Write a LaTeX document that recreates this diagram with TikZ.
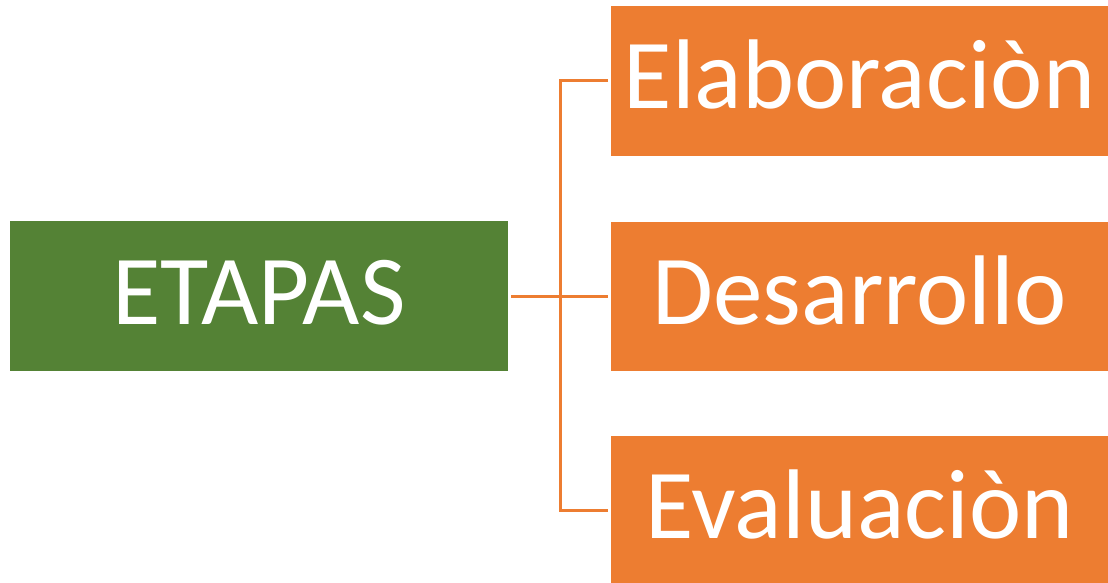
\documentclass[tikz,border=0pt]{standalone}
\usepackage{fontspec}
\setmainfont{Carlito}
\usepackage{xcolor}
\usepackage{tikz}
\usetikzlibrary{positioning}
\definecolor{stagegreen}{HTML}{548235}
\definecolor{stageorange}{HTML}{ED7D31}

\begin{document}
\begin{tikzpicture}[x=1pt, y=-1pt,
  box/.style={inner sep=0pt, outer sep=3pt, text=white, minimum width=497pt,
    minimum height=149pt, text height=66pt, text depth=10pt,
    font=\fontsize{99}{110}\selectfont},
  link/.style={draw=stageorange, line width=3pt}]
\useasboundingbox (0,0) rectangle (1108,583);
\node[box, fill=stagegreen, minimum width=498pt, minimum height=150pt] (etapas) at (259,296) {ETAPAS};
\node[box, fill=stageorange] (elaboracion) at (859.5,81) {Elaboraciòn};
\node[box, fill=stageorange] (desarrollo) at (859.5,296) {Desarrollo};
\node[box, fill=stageorange] (evaluacion) at (859.5,510.5) {Evaluaciòn};
\coordinate (hub) at (560,296);
% connectors
\draw[link] (etapas.east) -- (desarrollo.west);
\draw[link] (elaboracion.west) -| (hub) |- (evaluacion.west);
\end{tikzpicture}
\end{document}
